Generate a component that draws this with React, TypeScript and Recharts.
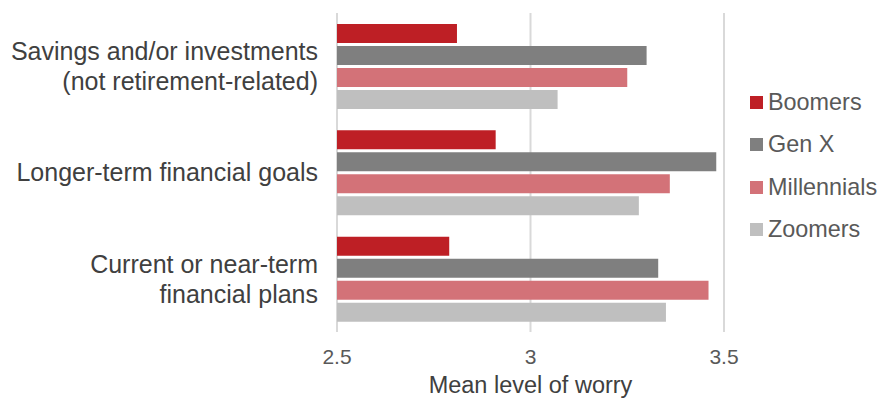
import { BarChart, Bar, XAxis, YAxis, CartesianGrid } from 'recharts'

const categories = [
  'Savings and/or investments\n(not retirement-related)',
  'Longer-term financial goals',
  'Current or near-term\nfinancial plans',
]
const boomers = [2.81, 2.91, 2.79]
const genX = [3.30, 3.48, 3.33]
const millennials = [3.25, 3.36, 3.46]
const zoomers = [3.07, 3.28, 3.35]
const xTicks = [2.5, 3, 3.5]

const SERIES = [
  { key: 'boomers', name: 'Boomers', color: '#BE1F25' },
  { key: 'genX', name: 'Gen X', color: '#7F7F7F' },
  { key: 'millennials', name: 'Millennials', color: '#D37278' },
  { key: 'zoomers', name: 'Zoomers', color: '#BFBFBF' },
]

const data = categories.map((name, i) => ({
  name,
  boomers: boomers[i],
  genX: genX[i],
  millennials: millennials[i],
  zoomers: zoomers[i],
}))

const FONT = '"Liberation Sans", Arial, sans-serif'

function CategoryTick({ x, y, payload }: any) {
  const lines = String(payload.value).split('\n')
  const offsets = lines.length === 1 ? [8] : [-6, 24]
  return (
    <text x={x} y={y} textAnchor="end" fill="#404040" fontSize={25} fontFamily={FONT}>
      {lines.map((l, i) => (
        <tspan key={i} x={x} y={y + offsets[i]}>{l}</tspan>
      ))}
    </text>
  )
}

// legend sits outside the plot, right of the bars
function LegendBox() {
  return (
    <div style={{ position: 'absolute', left: 750, top: 81, fontFamily: FONT, fontSize: 23.4, color: '#595959' }}>
      {SERIES.map((s) => (
        <div key={s.key} style={{ display: 'flex', alignItems: 'center', height: 42.5 }}>
          <span style={{ width: 13, height: 13, background: s.color, marginRight: 5, display: 'inline-block' }} />
          <span>{s.name}</span>
        </div>
      ))}
    </div>
  )
}

export default function App() {
  return (
    <div style={{ position: 'absolute', left: 0, top: 0, width: 895, height: 404, background: '#fff' }}>
      <BarChart
        width={895}
        height={404}
        data={data}
        layout="vertical"
        margin={{ top: 13, right: 171, bottom: 0, left: 0 }}
        barSize={19}
        barGap={3}
      >
        <CartesianGrid horizontal={false} stroke="#D9D9D9" strokeWidth={2} />
        <XAxis
          type="number"
          domain={[2.5, 3.5]}
          ticks={xTicks}
          height={72}
          axisLine={false}
          tickLine={false}
          tickSize={0}
          tickMargin={17}
          tick={{ fill: '#595959', fontSize: 21, fontFamily: FONT }}
          label={{ value: 'Mean level of worry', position: 'insideBottom', offset: 11, fill: '#404040', fontSize: 23.5, fontFamily: FONT }}
        />
        <YAxis
          type="category"
          dataKey="name"
          width={337}
          axisLine={false}
          tickLine={false}
          tickSize={0}
          tickMargin={19}
          tick={<CategoryTick />}
        />
        {SERIES.map((s) => (
          <Bar key={s.key} dataKey={s.key} name={s.name} fill={s.color} isAnimationActive={false} />
        ))}
      </BarChart>
      <LegendBox />
    </div>
  )
}
